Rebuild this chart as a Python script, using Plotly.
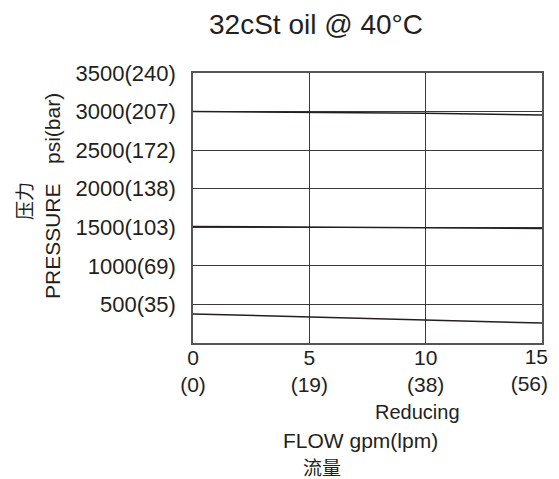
import plotly.graph_objects as go

flow_gpm = [0, 5, 10, 15]
flow_lpm = [0, 19, 38, 56]
psi_ticks = [500, 1000, 1500, 2000, 2500, 3000, 3500]
bar_ticks = [35, 69, 103, 138, 172, 207, 240]

curve_high = [3000, 2994, 2979, 2956]
curve_mid = [1510, 1503, 1497, 1485]
curve_low = [376, 337, 302, 259]

ink = "#231f20"
font = "Liberation Sans, Arial, Helvetica, sans-serif"
cjk = "Noto Sans CJK SC, sans-serif"

W, H = 559, 479
L, R, T, B = 193, 17, 73, 136
PW, PH = W - L - R, H - T - B

x_ticktext = [f"{g}<br>({l})" for g, l in zip(flow_gpm, flow_lpm)]

fig = go.Figure()
for ys in (curve_high, curve_mid, curve_low):
    fig.add_trace(go.Scatter(x=flow_gpm, y=ys, mode="lines",
                             line=dict(color=ink, width=1.5), showlegend=False,
                             hoverinfo="skip"))
# invisible carrier trace so the overlay axis (last tick label) is drawn
fig.add_trace(go.Scatter(x=flow_gpm, y=curve_low, mode="lines", xaxis="x2",
                         line=dict(color="rgba(0,0,0,0)", width=0),
                         showlegend=False, hoverinfo="skip"))

common_x = dict(range=[0, 15], tickmode="array", zeroline=False, ticks="",
                automargin=False, ticklabeloverflow="allow",
                tickfont=dict(size=21, family=font, color=ink))

fig.update_layout(
    width=W, height=H,
    margin=dict(l=L, r=R, t=T, b=B, autoexpand=False),
    paper_bgcolor="white", plot_bgcolor="white",
    font=dict(family=font, size=21, color=ink),
    title=dict(text="32cSt oil @ 40°C", x=(316 - L) / PW, xanchor="center",
               xref="paper", yref="container",
               y=1 - 24 / H, yanchor="middle",
               font=dict(size=28, family=font, color=ink)),
    xaxis=dict(**common_x, tickvals=flow_gpm[:-1], ticktext=x_ticktext[:-1],
               ticklabelstandoff=-5,
               showgrid=True, gridcolor="#3a3a3a", gridwidth=1,
               showline=True, linecolor="#555555", linewidth=1.5, mirror=True),
    xaxis2=dict(**common_x, tickvals=flow_gpm[-1:], ticktext=x_ticktext[-1:],
                ticklabelstandoff=-1,
                overlaying="x", side="bottom", anchor="y",
                showgrid=False, showline=False,
                ticklabelposition="outside left", ticklabelshift=6),
    yaxis=dict(range=[0, 3500], tickmode="array", tickvals=psi_ticks,
               ticktext=[f"{p}({b})" for p, b in zip(psi_ticks, bar_ticks)],
               showgrid=True, gridcolor="#3a3a3a", gridwidth=1,
               showline=True, linecolor="#555555", linewidth=1.5, mirror=True,
               zeroline=False, ticks="", ticklabelstandoff=11,
               automargin=False, ticklabeloverflow="allow",
               tickfont=dict(size=22, family=font, color=ink)),
)

annos = [
    dict(text="Reducing", x=417, y=412, size=20, fam=font, ang=0),
    dict(text="FLOW gpm(lpm)", x=360, y=440, size=21, fam=font, ang=0),
    dict(text="流量", x=322, y=466, size=19, fam=cjk, ang=0),
    dict(text="PRESSURE", x=52, y=241, size=21, fam=font, ang=-90),
    dict(text="psi(bar)", x=52, y=129, size=21, fam=font, ang=-90),
    dict(text="压力", x=23, y=201, size=19, fam=cjk, ang=-90),
]
for a in annos:
    fig.add_annotation(text=a["text"], xref="paper", yref="paper",
                       x=(a["x"] - L) / PW, y=(H - B - a["y"]) / PH,
                       xanchor="center", yanchor="middle", showarrow=False,
                       textangle=a["ang"],
                       font=dict(size=a["size"], family=a["fam"], color=ink))

fig.write_html("out.html", config={"displayModeBar": False},
               post_script="document.body.style.margin='0';document.body.style.overflow='hidden';")
